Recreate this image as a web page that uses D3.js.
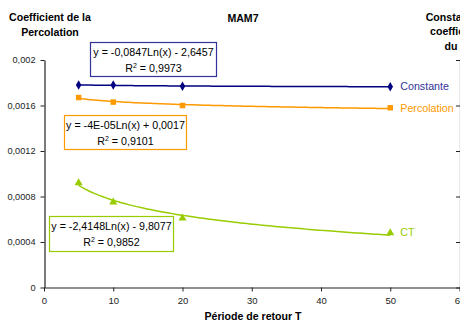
<!DOCTYPE html>
<html><head><meta charset="utf-8">
<script src="https://cdn.jsdelivr.net/npm/d3@7"></script>
<style>
html,body{margin:0;padding:0;background:#fff;}
svg{display:block;font-family:"Liberation Sans",Arial,sans-serif;}
</style></head>
<body>
<svg id="chart" width="460" height="322"></svg>
<script>
// ---- data ----
const periods = [5, 10, 20, 50];
const constante = [0.00178, 0.00178, 0.00177, 0.001765];
const percolation = [0.00167, 0.00163, 0.00160, 0.00158];
const ct = [0.00092, 0.00075, 0.00061, 0.00048];
const seriesNames = ["Constante", "Percolation", "CT"];
const equations = ["y = -0,0847Ln(x) - 2,6457", "y = -4E-05Ln(x) + 0,0017", "y = -2,4148Ln(x) - 9,8077"];
const r2Values = ["0,9973", "0,9101", "0,9852"];
const xTicks = [0, 10, 20, 30, 40, 50, 60];
const xTickLabels = ["0", "10", "20", "30", "40", "50", "60"];
const yTicks = [0, 0.0004, 0.0008, 0.0012, 0.0016, 0.002];
const yTickLabels = ["0", "0,0004", "0,0008", "0,0012", "0,0016", "0,002"];
const leftTitle = ["Coefficient de la", "Percolation"];
const rightTitle = ["Constante du", "coefficients", "du CT"];
const chartTitle = "MAM7";
const xTitle = "Période de retour T";

// ---- styles ----
const colors = {
  Constante: {line: "#000080", text: "#333399", shape: d3.symbolDiamond, size: 26},
  Percolation: {line: "#ff9900", text: "#ff9900", shape: d3.symbolSquare, size: 30},
  CT: {line: "#99cc00", text: "#99cc00", shape: d3.symbolTriangle, size: 28}
};
const seriesData = {Constante: constante, Percolation: percolation, CT: ct};

const svg = d3.select("#chart");
const x = d3.scaleLinear().domain([0, 60]).range([44, 459.5]);
const y = d3.scaleLinear().domain([0, 0.002]).range([287.5, 60]);

// axes
const xAxis = svg.append("g").attr("transform", "translate(0,287.5)")
  .call(d3.axisBottom(x).tickValues(xTicks).tickFormat((d, i) => xTickLabels[i]).tickSize(4).tickSizeOuter(0));
const yAxis = svg.append("g").attr("transform", "translate(44.5,0)")
  .call(d3.axisLeft(y).tickValues(yTicks).tickFormat((d, i) => yTickLabels[i]).tickSize(4).tickSizeOuter(0));
const y2Axis = svg.append("g").attr("transform", "translate(460,0)")
  .call(d3.axisLeft(y).tickValues(yTicks).tickFormat("").tickSize(4).tickSizeOuter(0));
[xAxis, yAxis, y2Axis].forEach(g => {
  g.selectAll("path.domain").attr("stroke", "#222").attr("stroke-width", 1.2);
  g.selectAll(".tick line").attr("stroke", "#222");
  g.selectAll("text").attr("fill", "#222").style("font-family", "Liberation Sans, Arial, sans-serif");
});
xAxis.selectAll("text").style("font-size", "9.5px").attr("dy", "0.71em").attr("y", 10);
yAxis.selectAll("text").style("font-size", "9.2px").attr("x", -9);

// trendlines (logarithmic least-squares fit)
function logFit(xs, ys) {
  const lx = xs.map(Math.log);
  const n = xs.length;
  const mx = d3.mean(lx), my = d3.mean(ys);
  let sxy = 0, sxx = 0;
  for (let i = 0; i < n; i++) { sxy += (lx[i] - mx) * (ys[i] - my); sxx += (lx[i] - mx) ** 2; }
  const a = sxy / sxx, b = my - a * mx;
  return t => a * Math.log(t) + b;
}
const line = d3.line().x(d => x(d[0])).y(d => y(d[1])).curve(d3.curveLinear);
seriesNames.forEach(name => {
  const f = logFit(periods, seriesData[name]);
  const pts = d3.range(0, 101).map(i => { const t = 5 + i * 0.45; return [t, f(t)]; });
  svg.append("path").datum(pts).attr("d", line)
    .attr("fill", "none").attr("stroke", colors[name].line).attr("stroke-width", 1.5);
});
// markers
seriesNames.forEach(name => {
  const sym = d3.symbol().type(colors[name].shape).size(colors[name].size);
  svg.append("g").selectAll("path").data(periods.map((p, i) => [p, seriesData[name][i]]))
    .join("path").attr("d", sym)
    .attr("transform", d => `translate(${x(d[0])},${y(d[1])})`)
    .attr("fill", colors[name].line);
});
// series labels
const lastIdx = periods.length - 1;
const labelOffsets = {Constante: 3.5, Percolation: 4, CT: 3};
seriesNames.forEach(name => {
  svg.append("text").attr("x", x(periods[lastIdx]) + 10)
    .attr("y", y(seriesData[name][lastIdx]) + labelOffsets[name])
    .attr("fill", colors[name].text).style("font-size", "10.7px").text(name);
});

// equation boxes
const boxes = [
  {name: "Constante", x0: 90.5, y0: 42.5, w: 126, h: 34, stroke: "#333399"},
  {name: "Percolation", x0: 64.5, y0: 115.5, w: 122, h: 34, stroke: "#ff9900"},
  {name: "CT", x0: 49.5, y0: 216.5, w: 124, h: 35, stroke: "#99cc00"}
];
boxes.forEach((b, i) => {
  svg.append("rect").attr("x", b.x0).attr("y", b.y0).attr("width", b.w).attr("height", b.h)
    .attr("fill", "#fff").attr("stroke", b.stroke).attr("stroke-width", 1.2);
  const cx = b.x0 + b.w / 2;
  svg.append("text").attr("x", cx).attr("y", b.y0 + 13).attr("text-anchor", "middle")
    .style("font-size", "10.7px").attr("fill", "#000").text(equations[i]);
  const t = svg.append("text").attr("x", cx).attr("y", b.y0 + 29).attr("text-anchor", "middle")
    .style("font-size", "10.7px").attr("fill", "#000");
  t.append("tspan").text("R");
  t.append("tspan").attr("dy", -4).style("font-size", "7px").text("2");
  t.append("tspan").attr("dy", 4).text(" = " + r2Values[i]);
});

// titles
const bold = sel => sel.style("font-weight", "bold").style("font-size", "10.6px").attr("fill", "#000").attr("text-anchor", "middle");
leftTitle.forEach((s, i) => svg.append("text").attr("x", 50).attr("y", 21 + i * 15).call(bold).text(s));
rightTitle.forEach((s, i) => svg.append("text").attr("x", 459.5).attr("y", 20.5 + i * 14.75).call(bold).text(s));
svg.append("text").attr("x", 243).attr("y", 22).call(bold).text(chartTitle);
svg.append("text").attr("x", 253).attr("y", 320).call(bold).text(xTitle);
</script>
</body></html>
